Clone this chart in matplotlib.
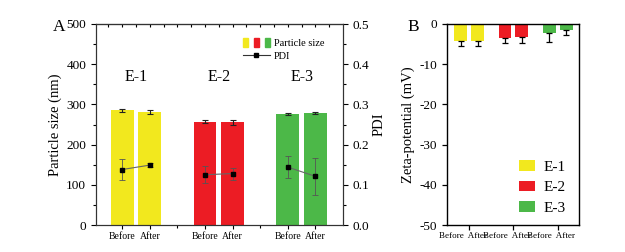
import numpy as np
import matplotlib
matplotlib.use('Agg')
import matplotlib.pyplot as plt
from matplotlib.patches import Patch
from matplotlib.lines import Line2D
from matplotlib.legend_handler import HandlerTuple

plt.rcParams['font.family'] = 'Liberation Serif'
plt.rcParams['axes.unicode_minus'] = False

groups = ['E-1', 'E-2', 'E-3']
states = ['Before', 'After']
colors = ['#f2e81e', '#ec1c24', '#4cb848']

# particle size (nm), before / after
size_mean = [[285, 280], [257, 255], [276, 279]]
size_err = [[4, 5], [3, 5], [3, 3]]
# PDI
pdi_mean = [[0.138, 0.149], [0.125, 0.128], [0.144, 0.121]]
pdi_err = [[0.026, 0.005], [0.021, 0.015], [0.028, 0.046]]
# zeta potential (mV)
zeta_mean = [[-4.3, -4.3], [-3.5, -3.25], [-2.2, -1.6]]
zeta_err = [[1.2, 1.2], [1.25, 1.5], [2.3, 1.15]]

fig = plt.figure(figsize=(6.25, 2.52), dpi=100)
axA = fig.add_axes([96/625, 1-225/252, 247/625, 201/252])
axP = axA.twinx()
axB = fig.add_axes([447/625, 1-225/252, 132/625, 201/252])

# ---- panel A
pos = []
for g in range(3):
    xs = [1 + 3*g, 2 + 3*g]
    pos += xs
    axA.bar(xs, size_mean[g], width=0.83, color=colors[g], yerr=size_err[g],
            error_kw=dict(ecolor='#222222', elinewidth=0.8, capsize=2.5, capthick=0.8))
    axP.errorbar(xs, pdi_mean[g], yerr=pdi_err[g], color='#666666', lw=0.8,
                 marker='s', ms=3.2, mfc='black', mec='black',
                 ecolor='#555555', elinewidth=0.6, capsize=2, capthick=0.6)
    axA.text(xs[0] + 0.5, 368, groups[g], ha='center', va='center', fontsize=11.5)

axA.set_xlim(0.05, 9)
axA.set_ylim(0, 500)
axP.set_ylim(0, 0.5)
axA.set_xticks(pos)
axA.set_xticklabels(states*3, fontsize=7)
axA.set_xticks([3, 6], minor=True)
axA.set_yticks(np.arange(0, 501, 100))
axA.set_yticks(np.arange(50, 500, 100), minor=True)
axP.set_yticks(np.arange(0, 0.51, 0.1))
axP.set_yticks(np.arange(0.05, 0.5, 0.1), minor=True)
axA.tick_params(axis='both', labelsize=9.5, direction='out', length=3.5, width=0.8)
axA.tick_params(axis='x', labelsize=7, length=3, pad=2)
axA.tick_params(which='minor', direction='out', length=2, width=0.8)
axP.tick_params(axis='y', labelsize=9.5, direction='out', length=3.5, width=0.8)
axP.tick_params(which='minor', direction='out', length=2, width=0.8)
axA.set_ylabel('Particle size (nm)', fontsize=10.5, labelpad=3)
axP.set_ylabel('PDI', fontsize=10.5, labelpad=2)
axP.yaxis.set_major_formatter(matplotlib.ticker.FormatStrFormatter('%.1f'))
# top ticks pointing in
axT = axA.secondary_xaxis('top')
axT.set_xticks(np.arange(0.5, 9, 0.5))
axT.tick_params(direction='in', length=2.5, width=0.8, labeltop=False)
for ax in (axA, axP):
    for s in ax.spines.values():
        s.set_linewidth(0.8)
        s.set_color('#333333')

h_size = tuple(Patch(color=c) for c in colors)
h_pdi = Line2D([], [], color='#333333', lw=0.8, marker='s', ms=3, mfc='black', mec='black')
axA.legend([h_size, h_pdi], ['Particle size', 'PDI'],
           handler_map={tuple: HandlerTuple(ndivide=None, pad=0.6)},
           loc='upper right', bbox_to_anchor=(0.95, 0.96), frameon=False,
           fontsize=7.5, handlelength=2.6, handleheight=0.9, labelspacing=0.25,
           handletextpad=0.4, borderaxespad=0.2)
fig.text(53/625, 1-27/252, 'A', fontsize=12.5, ha='left', va='center')

# ---- panel B
off = 0.19
for g in range(3):
    xs = [g - off, g + off]
    axB.bar(xs, zeta_mean[g], width=0.29, color=colors[g], label=groups[g])
    axB.errorbar(xs, zeta_mean[g], yerr=[zeta_err[g], [0, 0]], fmt='none',
                 ecolor='black', elinewidth=0.9, capsize=2.5, capthick=0.9)
    axB.text(g - 0.15, -51.8, '  '.join(states), ha='center', va='top', fontsize=6.5)

axB.set_xlim(-0.5, 2.48)
axB.set_ylim(-50, 0)
axB.set_xticks([0, 1, 2])
axB.set_xticklabels([])
axB.set_yticks(np.arange(-50, 1, 10))
axB.tick_params(axis='both', labelsize=9.5, direction='out', length=3.5, width=0.9)
axB.set_ylabel('Zeta-potential (mV)', fontsize=10.5, labelpad=3)
for s in axB.spines.values():
    s.set_linewidth(1.0)
axB.legend(loc='lower right', bbox_to_anchor=(0.9, 0.05), frameon=False,
           fontsize=11, handlelength=1.05, handleheight=0.7, labelspacing=0.45,
           handletextpad=0.55, borderaxespad=0, borderpad=0)
fig.text(413/625, 1-27/252, 'B', fontsize=12.5, ha='center', va='center')

fig.savefig('out.png', dpi=100)
